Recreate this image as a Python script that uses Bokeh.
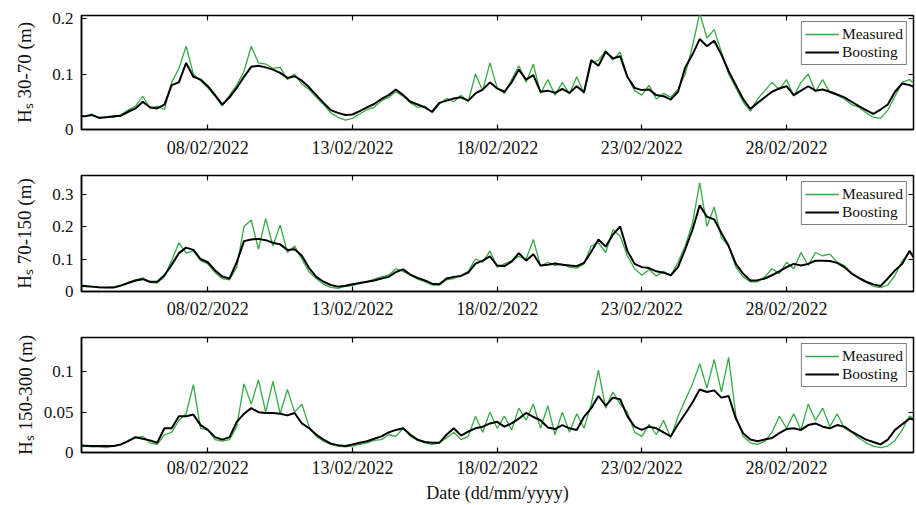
import pandas as pd
from bokeh.plotting import figure
from bokeh.models import (Range1d, FixedTicker, DatetimeTickFormatter, LinearAxis, DatetimeAxis,
                          Legend, LegendItem, CustomJSTickFormatter, ColumnDataSource)
from bokeh.layouts import column
from bokeh.embed import file_html
from bokeh.resources import INLINE

# ---------------- data (6-hourly) ----------------
start_time = "2022-02-03 12:00"
n_points = 117
date_ticks = ["2022-02-08", "2022-02-13", "2022-02-18", "2022-02-23", "2022-02-28"]

measured_30_70 = [
    0.026, 0.023, 0.028, 0.020, 0.023, 0.022, 0.027, 0.035, 0.042, 0.060,
    0.038, 0.042, 0.036, 0.085, 0.110, 0.150, 0.100, 0.088, 0.075, 0.060,
    0.042, 0.062, 0.080, 0.105, 0.150, 0.120, 0.118, 0.110, 0.112, 0.090,
    0.100, 0.082, 0.072, 0.058, 0.045, 0.030, 0.022, 0.017, 0.020, 0.028,
    0.036, 0.040, 0.052, 0.058, 0.068, 0.060, 0.048, 0.040, 0.042, 0.030,
    0.046, 0.056, 0.050, 0.062, 0.050, 0.100, 0.070, 0.120, 0.075, 0.065,
    0.090, 0.115, 0.085, 0.118, 0.065, 0.090, 0.062, 0.085, 0.064, 0.095,
    0.065, 0.120, 0.125, 0.142, 0.125, 0.140, 0.095, 0.070, 0.062, 0.080,
    0.055, 0.065, 0.058, 0.072, 0.100, 0.150, 0.210, 0.165, 0.180, 0.140,
    0.100, 0.075, 0.050, 0.033, 0.055, 0.070, 0.085, 0.072, 0.090, 0.060,
    0.085, 0.100, 0.068, 0.090, 0.066, 0.062, 0.055, 0.045, 0.040, 0.030,
    0.022, 0.020, 0.035, 0.060, 0.085, 0.090, 0.078]
boosting_30_70 = [
    0.025, 0.024, 0.026, 0.021, 0.022, 0.024, 0.025, 0.032, 0.038, 0.050,
    0.040, 0.038, 0.045, 0.080, 0.085, 0.120, 0.095, 0.090, 0.078, 0.062,
    0.045, 0.058, 0.075, 0.095, 0.113, 0.115, 0.112, 0.108, 0.102, 0.093,
    0.096, 0.088, 0.076, 0.062, 0.048, 0.035, 0.030, 0.026, 0.027, 0.033,
    0.040, 0.046, 0.055, 0.062, 0.072, 0.062, 0.050, 0.045, 0.040, 0.032,
    0.048, 0.052, 0.056, 0.058, 0.052, 0.065, 0.072, 0.085, 0.074, 0.068,
    0.085, 0.108, 0.090, 0.098, 0.068, 0.070, 0.066, 0.073, 0.066, 0.078,
    0.067, 0.125, 0.115, 0.140, 0.128, 0.132, 0.095, 0.075, 0.071, 0.072,
    0.062, 0.060, 0.054, 0.068, 0.112, 0.135, 0.163, 0.150, 0.160, 0.135,
    0.105, 0.080, 0.055, 0.037, 0.048, 0.058, 0.068, 0.074, 0.078, 0.062,
    0.070, 0.078, 0.070, 0.072, 0.068, 0.063, 0.058, 0.050, 0.042, 0.035,
    0.028, 0.036, 0.045, 0.068, 0.083, 0.080, 0.075]

measured_70_150 = [
    0.016, 0.015, 0.014, 0.012, 0.012, 0.014, 0.020, 0.028, 0.036, 0.042,
    0.028, 0.026, 0.045, 0.095, 0.150, 0.118, 0.125, 0.095, 0.085, 0.058,
    0.040, 0.036, 0.075, 0.200, 0.220, 0.130, 0.225, 0.140, 0.205, 0.120,
    0.140, 0.100, 0.060, 0.040, 0.022, 0.013, 0.010, 0.016, 0.018, 0.025,
    0.030, 0.038, 0.045, 0.050, 0.070, 0.062, 0.050, 0.038, 0.030, 0.020,
    0.020, 0.036, 0.040, 0.050, 0.062, 0.100, 0.090, 0.125, 0.075, 0.085,
    0.095, 0.108, 0.100, 0.160, 0.078, 0.090, 0.080, 0.085, 0.075, 0.072,
    0.085, 0.140, 0.150, 0.120, 0.190, 0.170, 0.110, 0.070, 0.050, 0.068,
    0.048, 0.062, 0.048, 0.090, 0.140, 0.210, 0.335, 0.200, 0.260, 0.165,
    0.140, 0.075, 0.045, 0.030, 0.030, 0.045, 0.070, 0.055, 0.090, 0.070,
    0.120, 0.080, 0.120, 0.110, 0.115, 0.090, 0.080, 0.058, 0.040, 0.028,
    0.016, 0.012, 0.020, 0.050, 0.095, 0.120, 0.105]
boosting_70_150 = [
    0.018, 0.017, 0.015, 0.013, 0.012, 0.012, 0.018, 0.026, 0.034, 0.038,
    0.030, 0.030, 0.050, 0.082, 0.118, 0.135, 0.128, 0.100, 0.090, 0.065,
    0.046, 0.040, 0.090, 0.155, 0.160, 0.162, 0.158, 0.150, 0.145, 0.128,
    0.130, 0.110, 0.072, 0.045, 0.030, 0.020, 0.015, 0.018, 0.022, 0.026,
    0.030, 0.034, 0.040, 0.045, 0.060, 0.068, 0.052, 0.042, 0.034, 0.024,
    0.022, 0.040, 0.045, 0.048, 0.058, 0.086, 0.095, 0.108, 0.080, 0.078,
    0.092, 0.118, 0.095, 0.115, 0.080, 0.082, 0.086, 0.082, 0.080, 0.078,
    0.088, 0.122, 0.160, 0.138, 0.175, 0.200, 0.125, 0.085, 0.075, 0.072,
    0.062, 0.058, 0.050, 0.075, 0.130, 0.190, 0.265, 0.230, 0.222, 0.180,
    0.140, 0.085, 0.055, 0.034, 0.035, 0.040, 0.050, 0.062, 0.075, 0.085,
    0.080, 0.085, 0.095, 0.095, 0.094, 0.088, 0.075, 0.055, 0.042, 0.030,
    0.022, 0.017, 0.040, 0.065, 0.085, 0.125, 0.090]

measured_150_300 = [
    0.008, 0.008, 0.007, 0.007, 0.006, 0.008, 0.010, 0.015, 0.018, 0.020,
    0.012, 0.010, 0.022, 0.025, 0.040, 0.048, 0.084, 0.030, 0.028, 0.016,
    0.014, 0.016, 0.032, 0.085, 0.060, 0.090, 0.050, 0.088, 0.048, 0.078,
    0.050, 0.060, 0.032, 0.020, 0.014, 0.010, 0.008, 0.007, 0.008, 0.010,
    0.012, 0.015, 0.016, 0.022, 0.020, 0.030, 0.020, 0.015, 0.012, 0.010,
    0.012, 0.018, 0.025, 0.016, 0.020, 0.045, 0.025, 0.050, 0.030, 0.045,
    0.028, 0.055, 0.040, 0.060, 0.030, 0.058, 0.022, 0.050, 0.025, 0.048,
    0.030, 0.060, 0.102, 0.055, 0.075, 0.060, 0.050, 0.025, 0.020, 0.035,
    0.022, 0.040, 0.018, 0.045, 0.065, 0.085, 0.110, 0.080, 0.115, 0.075,
    0.118, 0.045, 0.020, 0.012, 0.010, 0.014, 0.025, 0.045, 0.030, 0.048,
    0.028, 0.060, 0.040, 0.055, 0.032, 0.048, 0.030, 0.025, 0.018, 0.012,
    0.008, 0.006, 0.008, 0.015, 0.028, 0.045, 0.040]
boosting_150_300 = [
    0.009, 0.0085, 0.008, 0.008, 0.008, 0.008, 0.010, 0.014, 0.019, 0.017,
    0.015, 0.012, 0.030, 0.030, 0.045, 0.045, 0.047, 0.034, 0.028, 0.019,
    0.016, 0.019, 0.038, 0.048, 0.055, 0.050, 0.049, 0.049, 0.048, 0.046,
    0.049, 0.036, 0.030, 0.022, 0.016, 0.011, 0.009, 0.008, 0.010, 0.012,
    0.014, 0.017, 0.020, 0.025, 0.028, 0.030, 0.022, 0.016, 0.013, 0.012,
    0.012, 0.022, 0.030, 0.021, 0.026, 0.030, 0.032, 0.036, 0.038, 0.032,
    0.036, 0.042, 0.049, 0.044, 0.040, 0.031, 0.029, 0.034, 0.030, 0.028,
    0.044, 0.055, 0.070, 0.058, 0.068, 0.066, 0.045, 0.032, 0.028, 0.032,
    0.030, 0.025, 0.020, 0.035, 0.048, 0.062, 0.078, 0.075, 0.077, 0.068,
    0.070, 0.042, 0.024, 0.016, 0.014, 0.016, 0.018, 0.024, 0.029, 0.030,
    0.028, 0.034, 0.036, 0.032, 0.030, 0.034, 0.032, 0.026, 0.021, 0.016,
    0.013, 0.010, 0.016, 0.028, 0.035, 0.042, 0.040]

yticks_1 = [0, 0.1, 0.2]
ylabels_1 = ["0", "0.1", "0.2"]
yticks_2 = [0, 0.1, 0.2, 0.3]
ylabels_2 = ["0", "0.1", "0.2", "0.3"]
yticks_3 = [0, 0.05, 0.1]
ylabels_3 = ["0", "0.05", "0.1"]

for arr in (measured_30_70, boosting_30_70, measured_70_150, boosting_70_150,
            measured_150_300, boosting_150_300):
    assert len(arr) == n_points, len(arr)

times = pd.date_range(start_time, periods=n_points, freq="6h")

# ---------------- styling ----------------
FONT = "Liberation Serif"
GREEN = "#35aa45"
TXT = "#111111"


def ms(s):
    return pd.Timestamp(s).value / 1e6


x_range = Range1d(ms("2022-02-03 15:13"), ms("2022-03-04 09:20"))
date_tick_ms = [ms(d) for d in date_ticks]
fmt = "%d/%m/%Y"


def make_panel(measured, boosting, ylabel, ymax, yticks, ylabels,
               top_border, frame_h, bottom_border, label_standoff, tick_standoff,
               xlabel=None):
    p = figure(width=916, height=top_border + frame_h + bottom_border,
               x_axis_type="datetime", x_range=x_range, y_range=Range1d(0, ymax),
               output_backend="svg", toolbar_location=None,
               min_border_left=81, min_border_right=3,
               min_border_top=top_border, min_border_bottom=bottom_border)
    p.grid.visible = False
    p.outline_line_color = "black"
    p.outline_line_width = 1.5
    p.background_fill_color = "white"
    p.border_fill_color = "white"

    src = ColumnDataSource(dict(t=times, m=measured, b=boosting))
    r_m = p.line("t", "m", source=src, line_color=GREEN, line_width=1.3)
    r_b = p.line("t", "b", source=src, line_color="black", line_width=2)

    xa = p.xaxis[0]
    xa.ticker = FixedTicker(ticks=date_tick_ms)
    xa.formatter = DatetimeTickFormatter(days=fmt, months=fmt, hours=fmt, years=fmt,
                                         minutes=fmt, hourmin=fmt, seconds=fmt)
    xa.major_label_text_font = FONT
    xa.major_label_text_font_size = "18px"
    xa.major_label_text_color = TXT
    xa.major_label_standoff = tick_standoff
    if xlabel:
        xa.axis_label = xlabel
        xa.axis_label_text_font = FONT
        xa.axis_label_text_font_size = "18px"
        xa.axis_label_text_font_style = "normal"
        xa.axis_label_text_color = TXT
        xa.axis_label_standoff = 2

    ya = p.yaxis[0]
    ya.ticker = FixedTicker(ticks=yticks)
    ya.major_label_overrides = {v: s for v, s in zip(yticks, ylabels)}
    ya.major_label_text_font = FONT
    ya.major_label_text_font_size = "17px"
    ya.major_label_text_color = TXT
    ya.major_label_standoff = 8
    ya.axis_label = ylabel
    ya.axis_label_text_font = FONT
    ya.axis_label_text_font_size = "19px"
    ya.axis_label_text_font_style = "normal"
    ya.axis_label_text_color = TXT
    ya.axis_label_standoff = label_standoff

    for ax in (xa, ya):
        ax.axis_line_color = "black"
        ax.axis_line_width = 1.5
        ax.major_tick_in = 5
        ax.major_tick_out = 0
        ax.major_tick_line_color = "black"
        ax.major_tick_line_width = 1.2
        ax.minor_tick_line_color = None

    blank = "return ''"
    top = DatetimeAxis(ticker=FixedTicker(ticks=date_tick_ms),
                       formatter=CustomJSTickFormatter(code=blank))
    right = LinearAxis(ticker=FixedTicker(ticks=yticks),
                       formatter=CustomJSTickFormatter(code=blank))
    for ax in (top, right):
        ax.major_label_text_font_size = "1px"
        ax.major_label_standoff = 0
        ax.axis_line_color = None
        ax.major_tick_in = 5
        ax.major_tick_out = 0
        ax.major_tick_line_color = "black"
        ax.major_tick_line_width = 1.2
        ax.minor_tick_line_color = None
    p.add_layout(top, "above")
    p.add_layout(right, "right")

    legend = Legend(items=[LegendItem(label="Measured", renderers=[r_m]),
                           LegendItem(label="Boosting", renderers=[r_b])],
                    location="top_right")
    legend.label_text_font = FONT
    legend.label_text_font_size = "15.5px"
    legend.label_text_color = TXT
    legend.border_line_color = "black"
    legend.border_line_width = 1.5
    legend.background_fill_color = "white"
    legend.background_fill_alpha = 1.0
    legend.padding = 3
    legend.spacing = 0
    legend.margin = 6
    legend.glyph_width = 34
    legend.glyph_height = 18
    legend.label_height = 18
    legend.label_standoff = 3
    p.add_layout(legend)
    return p


p1 = make_panel(measured_30_70, boosting_30_70, "Hₛ 30-70 (m)", 0.2055,
                yticks_1, ylabels_1, 15, 114, 35, 14, 8)
p2 = make_panel(measured_70_150, boosting_70_150, "Hₛ 70-150 (m)", 0.357,
                yticks_2, ylabels_2, 11, 116, 35, 14, 7)
p3 = make_panel(measured_150_300, boosting_150_300, "Hₛ 150-300 (m)", 0.1425,
                yticks_3, ylabels_3, 11, 116, 52, 5, 5, xlabel="Date (dd/mm/yyyy)")

layout = column(p1, p2, p3, spacing=0)
open("out.html", "w").write(file_html(layout, INLINE))
